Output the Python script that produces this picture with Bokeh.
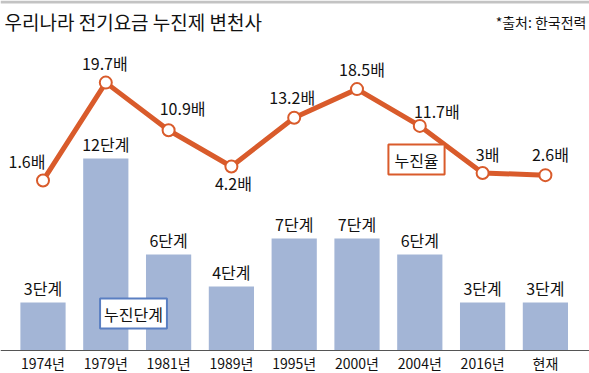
from bokeh.plotting import figure
from bokeh.models import Range1d, Label, ColumnDataSource, Span, BoxAnnotation
from bokeh.embed import file_html
from bokeh.resources import INLINE
from bokeh.core.properties import value

# ---- data ----
periods = ["1974년", "1979년", "1981년", "1989년", "1995년", "2000년", "2004년", "2016년", "현재"]
steps = [3, 12, 6, 4, 7, 7, 6, 3, 3]
ratio = [1.6, 19.7, 10.9, 4.2, 13.2, 18.5, 11.7, 3, 2.6]
title_text = "우리나라 전기요금 누진제 변천사"
source_text = "*출처: 한국전력"
legend_steps = "누진단계"
legend_ratio = "누진율"

# ---- styles / layout ----
W, H = 589, 373
BASE_PX = 350          # baseline of the bars, px from top
BAR_PX = 16.0          # px per step
LINE_ZERO_PX = 188.7   # px from top where ratio 0 would be
LINE_PX = 5.41         # px per ratio unit
X0_PX, DX_PX = 42.5, 62.8

BAR_COLOR = "#a3b5d6"
LINE_COLOR = "#d95b2b"
BOX_BLUE = "#5a7fc2"
NUM_FONT = "Liberation Sans Narrow, Noto Sans CJK KR"
KR_FONT = "Noto Sans CJK KR"
label_dx = [-16, -1, 14, 2, -2, 5, 17, 5, 5]
label_dy = [-20, -20, -22, 17, -21, -20, -15, -19, -21]

idx = list(range(len(periods)))

p = figure(width=W, height=H, output_backend="svg", toolbar_location=None,
           x_range=Range1d(-X0_PX / DX_PX, (W - X0_PX) / DX_PX),
           y_range=Range1d(-(H - BASE_PX) / BAR_PX, BASE_PX / BAR_PX),
           x_axis_location=None, y_axis_location=None, min_border=0,
           background_fill_color="white", border_fill_color="white")
p.outline_line_color = None
p.grid.visible = False
p.extra_y_ranges = {"line": Range1d((LINE_ZERO_PX - H) / LINE_PX,
                                    LINE_ZERO_PX / LINE_PX)}

# top grey band
p.add_layout(BoxAnnotation(bottom=(BASE_PX - 3) / BAR_PX, fill_color="#c3c3c3",
                           fill_alpha=1, line_color=None))

bar_src = ColumnDataSource(dict(x=idx, top=steps, period=periods,
                                lab=[f"{s}단계" for s in steps]))
p.vbar(x="x", top="top", bottom=0, width=0.72, source=bar_src,
       fill_color=BAR_COLOR, line_color=None)
p.text(x="x", y="top", text="lab", source=bar_src, text_align="center",
       text_baseline="bottom", y_offset=-3, text_font=value(NUM_FONT),
       text_font_size="16px", text_color="#111111")

# baseline and category labels
p.add_layout(Span(location=0, dimension="width", line_color="#555555",
                  line_width=1))
p.text(x="x", y=0, text="period", source=bar_src, text_align="center",
       text_baseline="middle", y_offset=12, text_font=value(NUM_FONT),
       text_font_size="14px", text_color="#111111")

line_src = ColumnDataSource(dict(x=idx, y=ratio,
                                 lab=[f"{v:g}배" for v in ratio],
                                 dx=label_dx, dy=label_dy))
p.line(x="x", y="y", source=line_src, y_range_name="line",
       line_color=LINE_COLOR, line_width=5, line_join="round")
p.scatter(x="x", y="y", source=line_src, y_range_name="line", size=12,
          fill_color="white", line_color=LINE_COLOR, line_width=2)
p.text(x="x", y="y", text="lab", source=line_src, y_range_name="line",
       x_offset="dx", y_offset="dy", text_align="center",
       text_baseline="middle", text_font=value(NUM_FONT),
       text_font_size="16px", text_color="#111111")

p.add_layout(Label(x=4, y=H - 21, x_units="screen", y_units="screen",
                   text=title_text, text_font=KR_FONT, text_font_size="19px",
                   text_align="left", text_baseline="middle",
                   text_color="#111111"))
p.add_layout(Label(x=W - 3, y=H - 21.5, x_units="screen", y_units="screen",
                   text=source_text, text_font=KR_FONT, text_font_size="14px",
                   text_align="right", text_baseline="middle",
                   text_color="#111111"))
p.add_layout(Label(x=416, y=H - 159, x_units="screen", y_units="screen",
                   text=legend_ratio, text_font=KR_FONT, text_font_size="16px",
                   text_align="center", text_baseline="middle",
                   text_color="#111111", background_fill_color="white",
                   border_line_color=LINE_COLOR, border_line_width=2,
                   padding=(6, 3)))
p.add_layout(Label(x=133, y=H - 313, x_units="screen", y_units="screen",
                   text=legend_steps, text_font=KR_FONT, text_font_size="16px",
                   text_align="center", text_baseline="middle",
                   text_color="#111111", background_fill_color="white",
                   border_line_color=BOX_BLUE, border_line_width=2,
                   padding=(4, 3)))

open("out.html", "w").write(file_html(p, INLINE))
